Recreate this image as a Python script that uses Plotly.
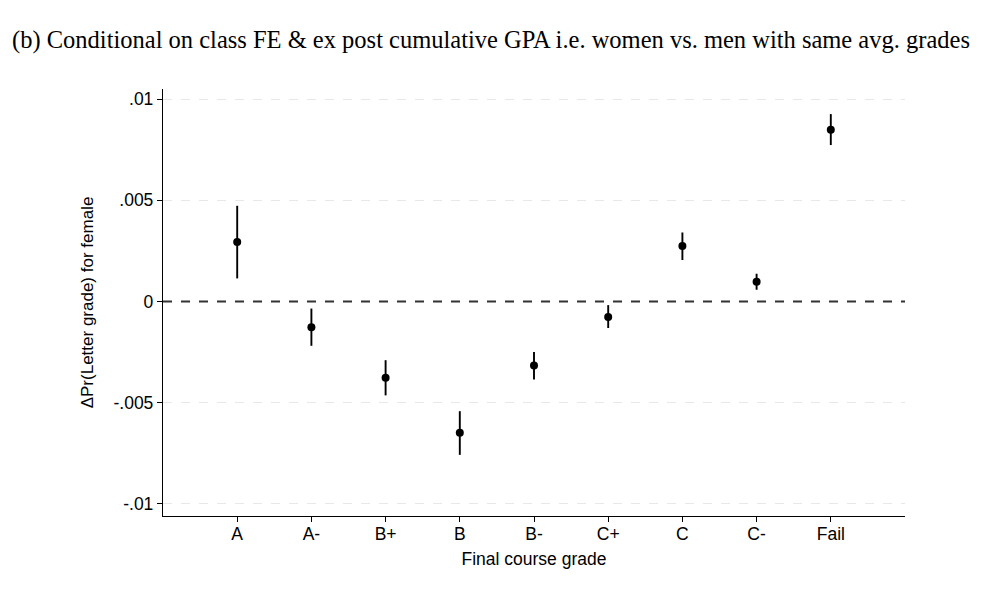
import plotly.graph_objects as go

grades = ["A", "A-", "B+", "B", "B-", "C+", "C", "C-", "Fail"]
estimate = [0.00294, -0.00127, -0.00377, -0.00649, -0.00316, -0.00077, 0.00274, 0.00097, 0.00849]
ci_upper = [0.00473, -0.00035, -0.00290, -0.00542, -0.00249, -0.00018, 0.00341, 0.00137, 0.00926]
ci_lower = [0.00114, -0.00219, -0.00464, -0.00758, -0.00385, -0.00131, 0.00205, 0.00058, 0.00773]
ytick_vals = [-0.01, -0.005, 0, 0.005, 0.01]
ytick_text = ["-.01", "-.005", "0", ".005", ".01"]

xpos = list(range(1, len(grades) + 1))
err_plus = [u - e for u, e in zip(ci_upper, estimate)]
err_minus = [e - l for e, l in zip(estimate, ci_lower)]

fig = go.Figure()
fig.add_trace(go.Scatter(
    x=xpos, y=estimate, mode="markers",
    marker=dict(color="black", size=8),
    error_y=dict(type="data", symmetric=False, array=err_plus, arrayminus=err_minus,
                 color="black", thickness=1.9, width=0),
    showlegend=False,
))

fig.add_hline(y=0, line=dict(color="#333333", width=1.8, dash="dash"))

fig.update_layout(
    width=1000, height=610,
    paper_bgcolor="white", plot_bgcolor="white",
    margin=dict(l=155, r=103, t=81, b=102),
    title=dict(
        text="(b) Conditional on class FE &amp; ex post cumulative GPA i.e. women vs. men with same avg. grades",
        x=0.483, xanchor="center", y=0.948, yanchor="middle",
        font=dict(family="Liberation Serif", size=24.5, color="black"),
    ),
    font=dict(family="Liberation Sans", size=17.5, color="black"),
)
fig.update_xaxes(
    range=[0, 10], tickvals=xpos, ticktext=grades,
    showline=True, linecolor="black", linewidth=1.3,
    ticks="outside", ticklen=5, tickcolor="black", tickwidth=1.2,
    ticklabelstandoff=-3,
    showgrid=False, zeroline=False,
    title=dict(text="Final course grade", standoff=9, font=dict(size=17.5)),
    tickfont=dict(size=17.5),
)
fig.update_yaxes(
    range=[-0.0106, 0.0105], tickvals=ytick_vals, ticktext=ytick_text,
    showline=True, linecolor="black", linewidth=1.3,
    ticks="outside", ticklen=5, tickcolor="black", tickwidth=1.2,
    showgrid=True, gridcolor="#e8e8e8", griddash="dash", gridwidth=1.2,
    zeroline=False,
    title=dict(text="ΔPr(Letter grade) for female", standoff=15, font=dict(size=17)),
    tickfont=dict(size=17.5),
)

fig.write_html("out.html")
